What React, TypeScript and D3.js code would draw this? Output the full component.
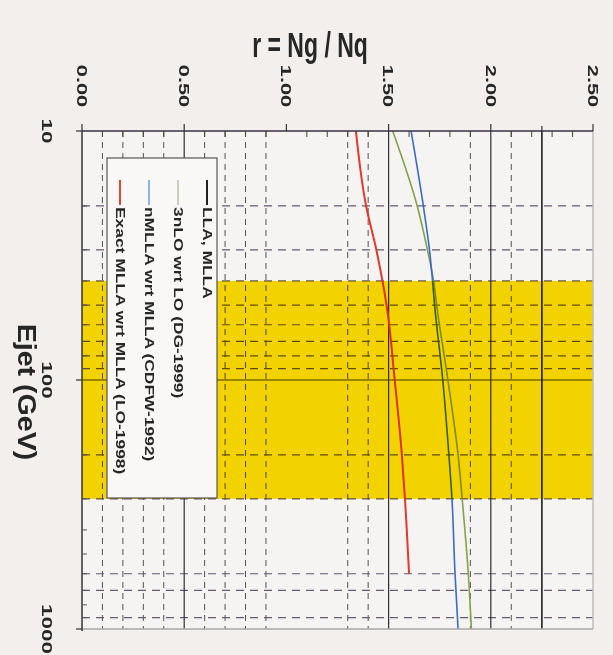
import * as d3 from 'd3'
import React, { useEffect } from 'react'

// jet energy (GeV) sampled along the curves
const energy = [10, 20, 30, 40, 50, 100, 200, 300, 600, 1000]
// r = Ng / Nq for each model
const llaMLLA = [2.25, 2.25, 2.25, 2.25, 2.25, 2.25, 2.25, 2.25, 2.25, 2.25]
const nLO3 = [1.52, 1.64, 1.69, 1.72, 1.735, 1.79, 1.84, 1.86, 1.89, 1.905]
const nMLLA = [1.61, 1.67, 1.70, 1.715, 1.725, 1.765, 1.795, 1.81, 1.825, 1.84]
const exactMLLA = [1.34, 1.39, 1.44, 1.47, 1.49, 1.53, 1.565, 1.58, 1.60, null]

const rTicks = [0, 0.5, 1, 1.5, 2, 2.5]
const rMinor = [0.1, 0.2, 0.3, 0.4, 0.6, 0.7, 0.8, 0.9, 1.1, 1.2, 1.3, 1.4, 1.6, 1.7, 1.8, 1.9, 2.1, 2.2, 2.3, 2.4]
const rDashed = [0.1, 0.2, 0.3, 0.4, 0.6, 0.7, 0.8, 0.9, 1.3, 1.4, 1.9, 2.1]
const rSolid = [0.5, 1.5, 2.0]
const eTicks = [10, 100, 1000]
const eMinor = [20, 30, 40, 50, 60, 70, 80, 90, 200, 300, 400, 500, 600, 700, 800, 900]
const eDashed = [20, 30, 40, 50, 60, 70, 80, 90, 200, 300, 600, 700, 900]
const eSolid = [100]
const band = [40, 300]

const legendItems = [
  { name: 'LLA, MLLA', color: '#222222' },
  { name: '3nLO wrt LO (DG-1999)', color: '#c9cfbf' },
  { name: 'nMLLA wrt MLLA (CDFW-1992)', color: '#8fb4e8' },
  { name: 'Exact MLLA wrt MLLA (LO-1998)', color: '#e8443c' },
]

const x = d3.scaleLinear().domain([0, 2.5]).range([82, 593])
const y = d3.scaleLog().domain([10, 1000]).range([131, 629])

const font = '"Liberation Sans", Arial, sans-serif'

// text turned a quarter clockwise, stretched along its reading direction
function VText({ x0, y0, size, stretch, anchor = 'middle', children }: any) {
  return (
    <text
      transform={`translate(${x0},${y0}) rotate(90) scale(${stretch},1)`}
      fontFamily={font}
      fontWeight="bold"
      fontSize={size}
      fill="#262626"
      textAnchor={anchor}
      dominantBaseline="central"
    >
      {children}
    </text>
  )
}

export default function App() {
  useEffect(() => {
    document.body.style.margin = '0'
    document.body.style.background = '#f3efed'
  }, [])

  const mkLine = (vals: (number | null)[]) =>
    d3
      .line<number>()
      .defined((_, i) => vals[i] != null)
      .x((_, i) => x(vals[i] as number))
      .y((e) => y(e))
      .curve(d3.curveMonotoneY)(energy)

  const series = [
    { vals: llaMLLA, color: '#1e1e1e', w: 1.6 },
    { vals: nLO3, color: '#8aa84e', w: 1.6 },
    { vals: nMLLA, color: '#3d6fd6', w: 1.6 },
    { vals: exactMLLA, color: '#ec3b30', w: 2 },
  ]

  const [x0, x1] = x.range()
  const [y0, y1] = y.range()

  return (
    <svg width={613} height={655} style={{ display: 'block', background: '#f3efed' }}>
      <rect x={x0} y={y0} width={x1 - x0} height={y1 - y0} fill="#f6f4f2" />
      <rect x={x0} y={y(band[0])} width={x1 - x0} height={y(band[1]) - y(band[0])} fill="#f2d200" />

      <g style={{ mixBlendMode: 'multiply' }}>
        {rDashed.map((v) => (
          <line key={'rd' + v} x1={x(v)} x2={x(v)} y1={y0} y2={y1} stroke="#555" strokeWidth={1} strokeDasharray="6,5" />
        ))}
        {eDashed.map((v) => (
          <line key={'ed' + v} x1={x0} x2={x1} y1={y(v)} y2={y(v)} stroke="#6a5d78" strokeWidth={1.2} strokeDasharray="8,6" />
        ))}
        {rSolid.map((v) => (
          <line key={'rs' + v} x1={x(v)} x2={x(v)} y1={y0} y2={y1} stroke="#333" strokeWidth={1.2} />
        ))}
        {eSolid.map((v) => (
          <line key={'es' + v} x1={x0} x2={x1} y1={y(v)} y2={y(v)} stroke="#444" strokeWidth={1.2} />
        ))}
        {series.map((s, i) => (
          <path key={i} d={mkLine(s.vals) || ''} fill="none" stroke={s.color} strokeWidth={s.w} />
        ))}
      </g>

      {/* frame */}
      <line x1={x1} x2={x1} y1={y0} y2={y1} stroke="#bdbdbd" strokeWidth={1.5} />
      <line x1={x0} x2={x1} y1={y1} y2={y1} stroke="#a9a9a9" strokeWidth={1.5} />
      <line x1={x0} x2={x1} y1={y0} y2={y0} stroke="#3a3346" strokeWidth={1.5} />
      <line x1={x0} x2={x0} y1={y0} y2={y1 + 2} stroke="#333" strokeWidth={1.5} />

      {/* r axis (top) */}
      {rTicks.map((v) => (
        <line key={'rt' + v} x1={x(v)} x2={x(v)} y1={y0} y2={y0 - 7} stroke="#333" strokeWidth={1.2} />
      ))}
      <line x1={x(2.25)} x2={x(2.25)} y1={y0} y2={y0 - 5} stroke="#333" strokeWidth={1.2} />
      {rMinor.map((v) => (
        <line key={'rm' + v} x1={x(v)} x2={x(v)} y1={y0} y2={y0 + 6} stroke="#444" strokeWidth={1} />
      ))}
      {rTicks.map((v) => (
        <VText key={'rl' + v} x0={x(v)} y0={86} size={15} stretch={1.45}>
          {d3.format('.2f')(v)}
        </VText>
      ))}
      <text
        transform="translate(310,57) scale(1,1.5)"
        textAnchor="middle"
        fontFamily={font}
        fontWeight="bold"
        fontSize={23}
        fill="#262626"
      >
        r = Ng / Nq
      </text>

      {/* energy axis (left) */}
      {eTicks.map((v) => (
        <line key={'et' + v} x1={x0} x2={x0 - 6} y1={y(v)} y2={y(v)} stroke="#333" strokeWidth={1.2} />
      ))}
      {eMinor.map((v) => (
        <line key={'em' + v} x1={x0} x2={x0 + 5} y1={y(v)} y2={y(v)} stroke="#555" strokeWidth={1} />
      ))}
      {eTicks.map((v) => (
        <VText key={'el' + v} x0={47} y0={y(v)} size={15} stretch={1.5}>
          {String(v)}
        </VText>
      ))}
      <VText x0={27} y0={392} size={26} stretch={1.1}>
        Ejet (GeV)
      </VText>

      {/* legend */}
      <rect x={107} y={158} width={110} height={340} fill="#f9f8f6" stroke="#555" strokeWidth={1.2} />
      {legendItems.map((d, i) => {
        const cx = 207 - i * 29
        return (
          <g key={d.name}>
            <line x1={cx} x2={cx} y1={180} y2={205} stroke={d.color} strokeWidth={2} />
            <VText x0={cx} y0={207} size={12} stretch={1.45} anchor="start">
              {d.name}
            </VText>
          </g>
        )
      })}
    </svg>
  )
}
